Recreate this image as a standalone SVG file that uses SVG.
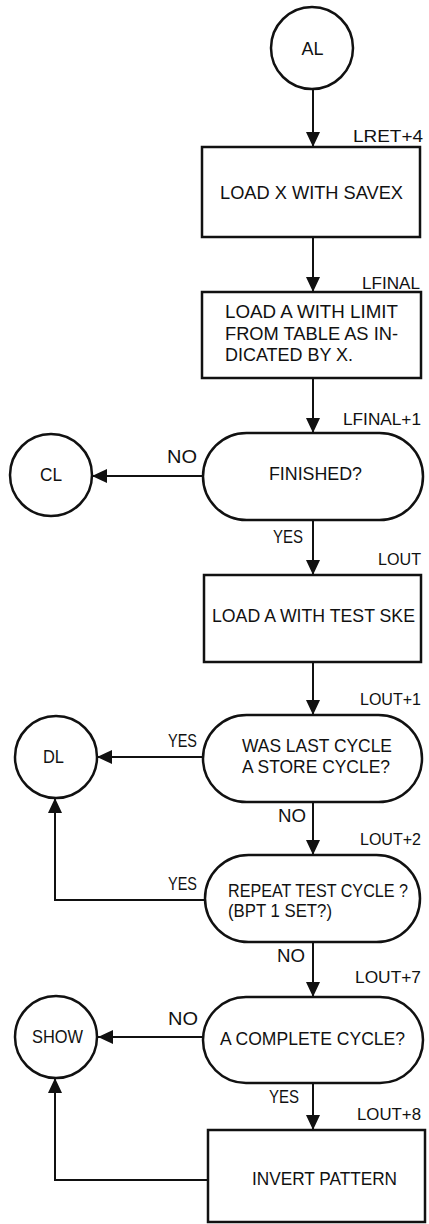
<svg xmlns="http://www.w3.org/2000/svg" width="429" height="1224" viewBox="0 0 429 1224">
<style>
.shape{fill:#fff;stroke:#111;stroke-width:2.5}
.conn{fill:none;stroke:#111;stroke-width:2}
text{font-family:"Liberation Sans",Arial,sans-serif;fill:#111}
.t{font-size:18px}
.lab{font-size:17px}
.yn{font-size:18px}
</style>
<defs>
<marker id="arr" viewBox="0 0 15 14" markerWidth="15" markerHeight="14" refX="15" refY="7" orient="auto" markerUnits="userSpaceOnUse">
<path d="M0,0 L15,7 L0,14 z" fill="#111"/>
</marker>
</defs>
<rect width="429" height="1224" fill="#fff"/>
<g id="connectors">
<path class="conn" marker-end="url(#arr)" d="M313,89 V147"/>
<path class="conn" marker-end="url(#arr)" d="M313,237 V292"/>
<path class="conn" marker-end="url(#arr)" d="M313,378 V433"/>
<path class="conn" marker-end="url(#arr)" d="M203,476 H92"/>
<path class="conn" marker-end="url(#arr)" d="M313,520 V575"/>
<path class="conn" marker-end="url(#arr)" d="M313,662 V715"/>
<path class="conn" marker-end="url(#arr)" d="M203,757 H97"/>
<path class="conn" marker-end="url(#arr)" d="M313,802 V855"/>
<path class="conn" marker-end="url(#arr)" d="M205,900 H55 V798"/>
<path class="conn" marker-end="url(#arr)" d="M313,942 V997"/>
<path class="conn" marker-end="url(#arr)" d="M203,1037 H98"/>
<path class="conn" marker-end="url(#arr)" d="M313,1083 V1130"/>
<path class="conn" marker-end="url(#arr)" d="M208,1180 H55 V1078"/>
<text class="yn" x="167" y="463" textLength="30" lengthAdjust="spacingAndGlyphs">NO</text>
<text class="yn" x="273" y="543" textLength="30" lengthAdjust="spacingAndGlyphs">YES</text>
<text class="yn" x="168" y="747" textLength="29" lengthAdjust="spacingAndGlyphs">YES</text>
<text class="yn" x="278" y="822" textLength="28" lengthAdjust="spacingAndGlyphs">NO</text>
<text class="yn" x="168" y="890" textLength="29" lengthAdjust="spacingAndGlyphs">YES</text>
<text class="yn" x="277" y="962" textLength="28" lengthAdjust="spacingAndGlyphs">NO</text>
<text class="yn" x="168" y="1025" textLength="30" lengthAdjust="spacingAndGlyphs">NO</text>
<text class="yn" x="269" y="1103" textLength="30" lengthAdjust="spacingAndGlyphs">YES</text>
</g>
<g id="AL">
<circle class="shape" cx="312" cy="48" r="41"/>
<text class="t" x="301.5" y="54.5" textLength="22" lengthAdjust="spacingAndGlyphs">AL</text>
</g>
<g id="box1">
<rect class="shape" x="202" y="147" width="218" height="90"/>
<text class="lab" x="353" y="142" textLength="70" lengthAdjust="spacingAndGlyphs">LRET+4</text>
<text class="t" x="220" y="198.5" textLength="183" lengthAdjust="spacingAndGlyphs">LOAD X WITH SAVEX</text>
</g>
<g id="box2">
<rect class="shape" x="202" y="292" width="219" height="86"/>
<text class="lab" x="362" y="289" textLength="58" lengthAdjust="spacingAndGlyphs">LFINAL</text>
<text class="t" x="225" y="318" textLength="173" lengthAdjust="spacingAndGlyphs">LOAD A WITH LIMIT</text>
<text class="t" x="225" y="339.5" textLength="173" lengthAdjust="spacingAndGlyphs">FROM TABLE AS IN-</text>
<text class="t" x="225" y="361" textLength="128" lengthAdjust="spacingAndGlyphs">DICATED BY X.</text>
</g>
<g id="finished">
<rect class="shape" x="203" y="433" width="220" height="87" rx="43.5"/>
<text class="lab" x="343" y="425" textLength="78" lengthAdjust="spacingAndGlyphs">LFINAL+1</text>
<text class="t" x="269" y="480" textLength="93" lengthAdjust="spacingAndGlyphs">FINISHED?</text>
</g>
<g id="CL">
<circle class="shape" cx="51" cy="475" r="41"/>
<text class="t" x="40" y="481" textLength="22" lengthAdjust="spacingAndGlyphs">CL</text>
</g>
<g id="box3">
<rect class="shape" x="204" y="575" width="217" height="87"/>
<text class="lab" x="378" y="565" textLength="43" lengthAdjust="spacingAndGlyphs">LOUT</text>
<text class="t" x="212" y="622" textLength="203" lengthAdjust="spacingAndGlyphs">LOAD A WITH TEST SKE</text>
</g>
<g id="laststore">
<rect class="shape" x="203" y="715" width="219" height="87" rx="43.5"/>
<text class="lab" x="360" y="705" textLength="61" lengthAdjust="spacingAndGlyphs">LOUT+1</text>
<text class="t" x="242" y="752" textLength="150" lengthAdjust="spacingAndGlyphs">WAS LAST CYCLE</text>
<text class="t" x="242" y="773" textLength="148" lengthAdjust="spacingAndGlyphs">A STORE CYCLE?</text>
</g>
<g id="DL">
<circle class="shape" cx="56" cy="757" r="41"/>
<text class="t" x="43" y="763" textLength="21" lengthAdjust="spacingAndGlyphs">DL</text>
</g>
<g id="repeat">
<rect class="shape" x="205" y="855" width="215" height="87" rx="43.5"/>
<text class="lab" x="360" y="845" textLength="61" lengthAdjust="spacingAndGlyphs">LOUT+2</text>
<text class="t" x="228" y="897" textLength="180" lengthAdjust="spacingAndGlyphs">REPEAT TEST CYCLE ?</text>
<text class="t" x="228" y="917" textLength="104" lengthAdjust="spacingAndGlyphs">(BPT 1 SET?)</text>
</g>
<g id="complete">
<rect class="shape" x="203" y="997" width="220" height="86" rx="43"/>
<text class="lab" x="355" y="983" textLength="66" lengthAdjust="spacingAndGlyphs">LOUT+7</text>
<text class="t" x="220" y="1045" textLength="185" lengthAdjust="spacingAndGlyphs">A COMPLETE CYCLE?</text>
</g>
<g id="SHOW">
<circle class="shape" cx="56" cy="1037" r="41"/>
<text class="t" x="32" y="1043" textLength="51" lengthAdjust="spacingAndGlyphs">SHOW</text>
</g>
<g id="box4">
<rect class="shape" x="208" y="1130" width="217" height="92"/>
<text class="lab" x="357" y="1120" textLength="64" lengthAdjust="spacingAndGlyphs">LOUT+8</text>
<text class="t" x="252" y="1185" textLength="145" lengthAdjust="spacingAndGlyphs">INVERT PATTERN</text>
</g>
</svg>
